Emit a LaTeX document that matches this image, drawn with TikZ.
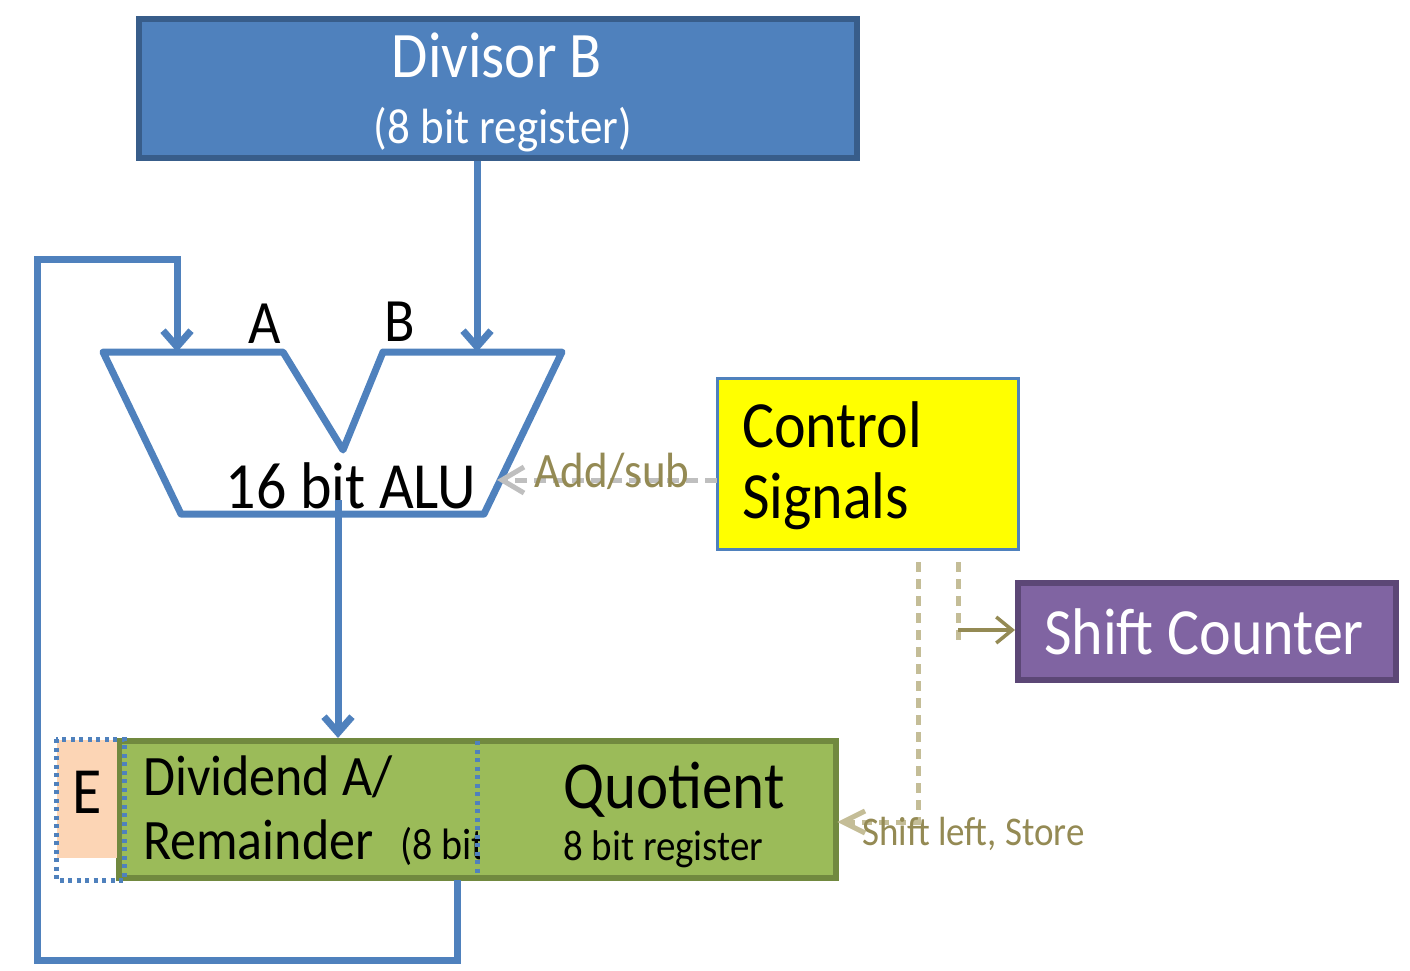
\documentclass[tikz,border=0pt]{standalone}
\usepackage{fontspec}
\setmainfont{Carlito}
\usetikzlibrary{arrows.meta}
\definecolor{blu}{HTML}{4F81BD}
\definecolor{bludark}{HTML}{385D8A}
\definecolor{grn}{HTML}{9BBB59}
\definecolor{grndark}{HTML}{71893F}
\definecolor{purp}{HTML}{8064A2}
\definecolor{purpdark}{HTML}{5C4776}
\definecolor{peach}{HTML}{FCD5B5}
\definecolor{olive}{HTML}{948A54}
\definecolor{tan}{HTML}{C4BD97}
\definecolor{lgray}{HTML}{BFBFBF}
\definecolor{yel}{HTML}{FFFF00}
\newcommand{\fsz}[1]{\fontsize{#1}{#1}\selectfont}
\newcommand{\tall}[1]{\scalebox{1}[1.1]{#1}}
\tikzset{
  box/.style={inner sep=0pt, minimum width=#1},
  conn/.style={draw=blu, line width=7pt, line join=miter},
  barb/.style={-{Straight Barb[length=16pt,width=28pt]}},
  tandash/.style={draw=tan, line width=5pt, dash pattern=on 10pt off 7pt},
  lbl/.style={inner sep=0pt, anchor=base west},
}
\begin{document}
\begin{tikzpicture}[x=1pt,y=-1pt]
\useasboundingbox (0,0) rectangle (1410,970);

% Divisor B
\node[box=718pt, minimum height=139pt, fill=blu, draw=bludark, line width=6pt] (div) at (498,88.5) {};
\node[white, font=\fsz{59}] (divt) at (497,55) {\tall{Divisor B}};
\node[white, font=\fsz{45}] (divs) at (503,130) {\tall{(8 bit register)}};

% ALU
\coordinate (tl) at (103,352);
\coordinate (n1) at (283,352);
\coordinate (nb) at (343,450);
\coordinate (n2) at (383,352);
\coordinate (tr) at (562,352);
\coordinate (br) at (484,514);
\coordinate (bl) at (181,514);
\draw[conn, line join=round] (tl) -- (n1) -- (nb) -- (n2) -- (tr) -- (br) -- (bl) -- cycle;
\node[font=\fsz{56}] (la) at (265,324) {\tall{A}};
\node[font=\fsz{56}] (lb) at (400,322) {\tall{B}};
\node[font=\fsz{60}] (alut) at (351,486) {\tall{16 bit ALU}};

\coordinate (bin) at (477,352);
\coordinate (ain) at (177,352);
\coordinate (aout) at (338,500);

% Green register
\node[box=717pt, minimum height=137pt, fill=grn, draw=grndark, line width=6pt] (reg) at (477.5,809.5) {};
\fill[peach] (57,740) rectangle (117,858);
\draw[blu, line width=5pt, dash pattern=on 4pt off 4.5pt] (56,739) rectangle (124,880);
\node[font=\fsz{60}] (e) at (87,792) {\tall{E}};
\node[lbl, font=\fsz{52}] (dv) at (143,795) {\tall{Dividend A/}};
\node[lbl, font=\fsz{52}] (rm) at (143,859) {\tall{Remainder}};
\begin{scope}
\clip (390,740) rectangle (479,878);
\node[lbl, font=\fsz{40}] (eb) at (400,859) {\tall{(8 bit}};
\end{scope}
\draw[blu, line width=5pt, dash pattern=on 4pt off 4.5pt] (477,741) -- (477,873);
\node[lbl, font=\fsz{61}] (q) at (563,808) {\tall{Quotient}};
\node[lbl, font=\fsz{39}] (qr) at (563,860) {\tall{8 bit register}};

% Control signals
\node[box=301pt, minimum height=171pt, fill=yel, draw=blu, line width=3pt] (ctl) at (867.5,463.5) {};
\node[lbl, font=\fsz{60}] (c1) at (742,447) {\tall{Control}};
\node[lbl, font=\fsz{60}] (c2) at (742,518) {\tall{Signals}};

% Shift counter
\node[box=378pt, minimum height=97pt, fill=purp, draw=purpdark, line width=6pt] (sc) at (1207,631.5) {};
\node[white, font=\fsz{60}] (sct) at (1204,632) {\tall{Shift Counter}};

% connectors
\draw[conn, barb] (div.south -| bin) -- (bin);
\draw[conn, barb] (aout) -- (reg.north -| aout);
\coordinate (fb) at (457,880);
\coordinate (c1b) at (37,960);
\coordinate (c2b) at (37,259);
\draw[conn, barb] (fb) |- (c1b) -- (c2b) -| (ain);

% Add/sub
\coordinate (as1) at (717,480);
\coordinate (as2) at (502,480);
\draw[draw=lgray, line width=5pt, dash pattern=on 12pt off 7pt] (as1) -- (as2);
\draw[draw=lgray, line width=5pt] ([xshift=22pt,yshift=-13pt]as2) -- (as2) -- ([xshift=22pt,yshift=13pt]as2);
\node[olive, font=\fsz{45}] (ast) at (612,471) {\tall{Add/sub}};

% Shift left, store
\coordinate (sl1) at (918,562);
\coordinate (sl2) at (918,822);
\coordinate (sl3) at (843,822);
\draw[tandash] (sl1) -- (sl2) -- (sl3);
\draw[draw=tan, line width=5pt] ([xshift=22pt,yshift=-11pt]sl3) -- (sl3) -- ([xshift=22pt,yshift=11pt]sl3);
\node[lbl, olive, font=\fsz{37}] (slt) at (862,845) {\tall{Shift left, Store}};

% to shift counter
\coordinate (s1) at (958,562);
\coordinate (s2) at (958,640);
\coordinate (s3) at (958,630);
\draw[tandash] (s1) -- (s2);
\draw[draw=olive, line width=3.5pt, -{Straight Barb[length=16pt,width=26pt]}] (s3) -- (sc.west |- s3);
\end{tikzpicture}
\end{document}
